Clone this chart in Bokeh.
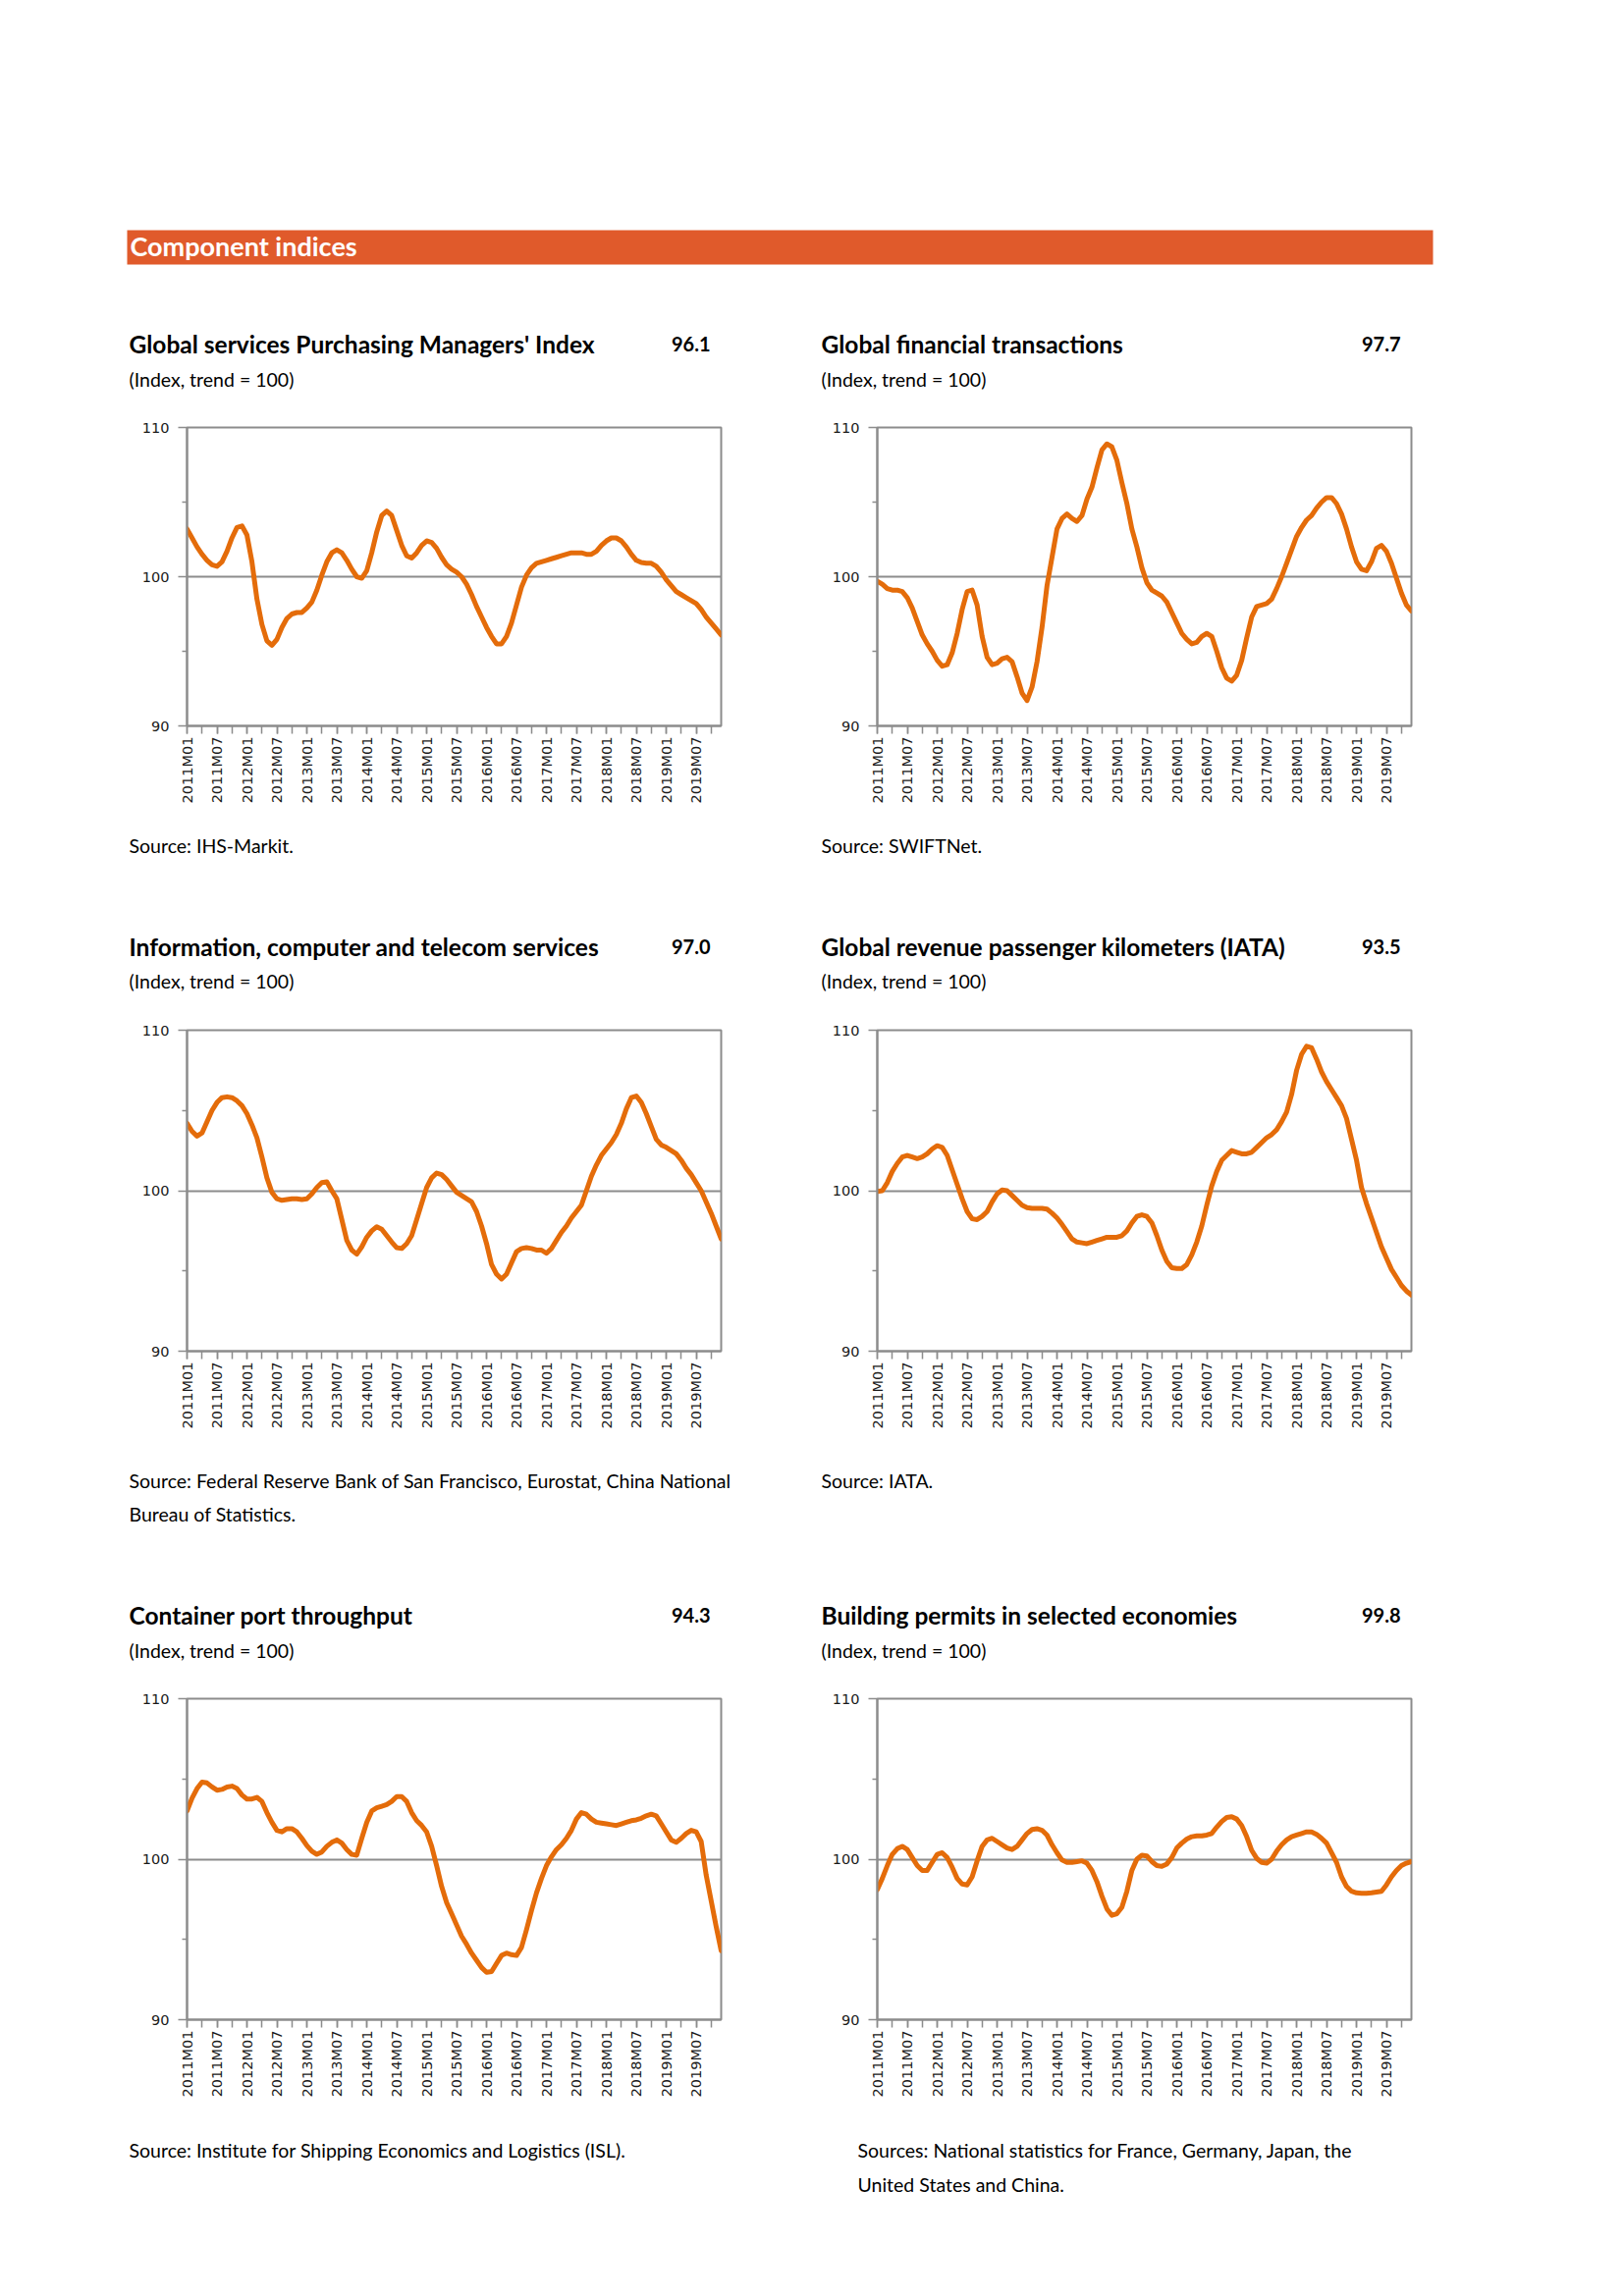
from bokeh.plotting import figure
from bokeh.models import Range1d, FixedTicker, Label
from bokeh.layouts import column, row
from bokeh.embed import file_html
from bokeh.resources import INLINE
from math import pi

# ---------------- data ----------------
tick_labels = ["2011M01", "2011M07", "2012M01", "2012M07", "2013M01", "2013M07",
               "2014M01", "2014M07", "2015M01", "2015M07", "2016M01", "2016M07",
               "2017M01", "2017M07", "2018M01", "2018M07", "2019M01", "2019M07"]

pmi = [103.2, 102.6, 102.0, 101.5, 101.1, 100.8, 100.7, 101.0, 101.7, 102.6, 103.3, 103.4,
       102.8, 101.0, 98.5, 96.8, 95.7, 95.4, 95.8, 96.6, 97.2, 97.5, 97.6, 97.6,
       97.9, 98.3, 99.1, 100.1, 101.0, 101.6, 101.8, 101.6, 101.1, 100.5, 100.0, 99.9,
       100.4, 101.6, 103.0, 104.1, 104.4, 104.1, 103.1, 102.1, 101.4, 101.25, 101.6, 102.1,
       102.4, 102.3, 101.9, 101.3, 100.8, 100.5, 100.3, 100.0, 99.5, 98.8, 98.0, 97.3,
       96.6, 96.0, 95.5, 95.5, 96.0, 96.9, 98.1, 99.3, 100.1, 100.6, 100.9, 101.0,
       101.1, 101.2, 101.3, 101.4, 101.5, 101.6, 101.6, 101.6, 101.5, 101.5, 101.7, 102.1,
       102.4, 102.6, 102.6, 102.4, 102.0, 101.5, 101.1, 100.95, 100.9, 100.9, 100.7, 100.3,
       99.8, 99.4, 99.0, 98.8, 98.6, 98.4, 98.2, 97.8, 97.3, 96.9, 96.5, 96.1]

fin = [99.7, 99.5, 99.2, 99.1, 99.1, 99.0, 98.6, 97.9, 97.0, 96.1, 95.5, 95.0,
       94.4, 94.0, 94.1, 94.9, 96.2, 97.8, 99.0, 99.1, 98.1, 96.0, 94.6, 94.1,
       94.2, 94.5, 94.6, 94.3, 93.3, 92.2, 91.7, 92.6, 94.3, 96.6, 99.4, 101.3,
       103.2, 103.9, 104.2, 103.9, 103.7, 104.1, 105.2, 106.0, 107.3, 108.5, 108.9, 108.7,
       107.8, 106.3, 104.9, 103.2, 102.0, 100.6, 99.6, 99.1, 98.9, 98.7, 98.3, 97.6,
       96.9, 96.2, 95.8, 95.5, 95.6, 96.0, 96.2, 96.0, 95.0, 93.9, 93.2, 93.0,
       93.4, 94.4, 95.9, 97.3, 98.0, 98.1, 98.2, 98.5, 99.2, 100.0, 100.9, 101.8,
       102.7, 103.3, 103.8, 104.1, 104.6, 105.0, 105.3, 105.3, 104.9, 104.2, 103.2, 102.0,
       101.0, 100.5, 100.4, 101.0, 101.9, 102.1, 101.7, 100.9, 99.9, 98.9, 98.1, 97.7]

ict = [104.2, 103.7, 103.4, 103.6, 104.3, 105.0, 105.5, 105.8, 105.85, 105.8, 105.6, 105.3,
       104.8, 104.1, 103.3, 102.1, 100.8, 99.9, 99.5, 99.4, 99.45, 99.5, 99.5, 99.45,
       99.5, 99.8, 100.2, 100.5, 100.55, 100.0, 99.5, 98.2, 96.9, 96.3, 96.05, 96.5,
       97.1, 97.5, 97.75, 97.6, 97.2, 96.8, 96.45, 96.4, 96.7, 97.2, 98.2, 99.2,
       100.2, 100.8, 101.1, 101.0, 100.7, 100.3, 99.9, 99.7, 99.5, 99.3, 98.7, 97.8,
       96.7, 95.4, 94.8, 94.5, 94.8, 95.5, 96.2, 96.4, 96.45, 96.4, 96.3, 96.3,
       96.1, 96.4, 96.9, 97.4, 97.8, 98.3, 98.7, 99.1, 100.0, 100.9, 101.6, 102.2,
       102.6, 103.0, 103.5, 104.2, 105.1, 105.8, 105.9, 105.5, 104.8, 104.0, 103.2, 102.85,
       102.7, 102.5, 102.3, 101.9, 101.4, 101.0, 100.5, 100.0, 99.3, 98.6, 97.8, 97.0]

rpk = [99.95, 100.0, 100.5, 101.2, 101.7, 102.1, 102.2, 102.1, 102.0, 102.1, 102.3, 102.6,
       102.8, 102.7, 102.2, 101.3, 100.4, 99.5, 98.7, 98.25, 98.2, 98.4, 98.7, 99.3,
       99.8, 100.05, 100.0, 99.7, 99.4, 99.1, 98.95, 98.9, 98.9, 98.9, 98.85, 98.6,
       98.3, 97.9, 97.45, 97.0, 96.8, 96.75, 96.7, 96.8, 96.9, 97.0, 97.1, 97.1,
       97.1, 97.2, 97.5, 98.0, 98.4, 98.5, 98.4, 98.0, 97.2, 96.3, 95.6, 95.2,
       95.15, 95.15, 95.4, 96.0, 96.8, 97.8, 99.1, 100.3, 101.2, 101.9, 102.2, 102.5,
       102.4, 102.3, 102.3, 102.4, 102.7, 103.0, 103.3, 103.5, 103.8, 104.3, 104.9, 106.0,
       107.5, 108.5, 109.0, 108.9, 108.2, 107.4, 106.8, 106.3, 105.8, 105.3, 104.5, 103.2,
       101.9, 100.2, 99.2, 98.3, 97.4, 96.5, 95.8, 95.1, 94.6, 94.1, 93.75, 93.5]

port = [103.0, 103.8, 104.4, 104.8, 104.75, 104.5, 104.3, 104.35, 104.5, 104.55, 104.4, 104.0,
        103.75, 103.75, 103.85, 103.6, 102.9, 102.3, 101.8, 101.7, 101.9, 101.9, 101.7, 101.3,
        100.85, 100.5, 100.3, 100.45, 100.8, 101.05, 101.2, 101.0, 100.6, 100.3, 100.25, 101.3,
        102.3, 103.0, 103.2, 103.3, 103.4, 103.6, 103.9, 103.9, 103.6, 102.9, 102.4, 102.1,
        101.7, 100.8, 99.6, 98.3, 97.3, 96.6, 95.9, 95.2, 94.7, 94.15, 93.7, 93.25,
        92.95, 93.0, 93.5, 94.0, 94.15, 94.05, 94.0, 94.5, 95.6, 96.8, 97.9, 98.8,
        99.6, 100.15, 100.6, 100.9, 101.3, 101.8, 102.5, 102.9, 102.8, 102.5, 102.3, 102.25,
        102.2, 102.15, 102.1, 102.2, 102.3, 102.4, 102.45, 102.55, 102.7, 102.8, 102.7, 102.2,
        101.7, 101.2, 101.05, 101.3, 101.6, 101.8, 101.7, 101.1, 99.0, 97.4, 95.8, 94.3]

permits = [98.1, 98.8, 99.6, 100.3, 100.65, 100.8, 100.6, 100.1, 99.6, 99.3, 99.3, 99.8,
           100.3, 100.4, 100.1, 99.5, 98.8, 98.45, 98.4, 98.9, 99.9, 100.8, 101.2, 101.3,
           101.1, 100.9, 100.7, 100.6, 100.8, 101.2, 101.6, 101.85, 101.9, 101.8, 101.5, 100.9,
           100.4, 99.95, 99.8, 99.8, 99.85, 99.9, 99.75, 99.3, 98.6, 97.7, 96.9, 96.5,
           96.6, 97.0, 98.0, 99.3, 100.0, 100.25, 100.2, 99.85, 99.6, 99.55, 99.7, 100.1,
           100.7, 101.0, 101.25, 101.4, 101.45, 101.45, 101.5, 101.6, 102.0, 102.35, 102.6, 102.65,
           102.5, 102.1, 101.4, 100.55, 100.05, 99.8, 99.75, 100.0, 100.5, 100.9, 101.2, 101.4,
           101.5, 101.6, 101.7, 101.7, 101.55, 101.3, 101.0, 100.4, 99.8, 98.9, 98.3, 98.0,
           97.9, 97.87, 97.87, 97.9, 97.95, 98.0, 98.4, 98.9, 99.3, 99.6, 99.75, 99.85]

titles = ["Global services Purchasing Managers' Index", "Global financial transactions",
          "Information, computer and telecom services", "Global revenue passenger kilometers (IATA)",
          "Container port throughput", "Building permits in selected economies"]
latest = ["96.1", "97.7", "97.0", "93.5", "94.3", "99.8"]
subtitle = "(Index, trend = 100)"
sources = [["Source:  IHS-Markit."],
           ["Source: SWIFTNet."],
           ["Source:  Federal Reserve Bank of San Francisco, Eurostat, China National",
            "Bureau of Statistics."],
           ["Source: IATA."],
           ["Source:  Institute for Shipping Economics and Logistics (ISL)."],
           ["Sources: National statistics for France, Germany, Japan, the",
            "United States and China."]]
series = [pmi, fin, ict, rpk, port, permits]
y_ticks = [90, 100, 110]
y_minor = [95, 105]

# ---------------- style ----------------
LINE = "#E46C0A"
BAR = "#E05A2B"
GRAY = "#8C8C8C"
TXT_FONT = "Lato"
AX_FONT = "DejaVu Sans"
TITLE_SIZE = "24.5px"
VALUE_SIZE = "20px"
BODY_SIZE = "19.5px"

PAGE_W = 1520
BAND_L, BAND_R = 129, 1459          # horizontal extent of header / text bands (page px)


def band(top, bottom, items):
    """Full-width text band covering page rows top..bottom; items use page coordinates."""
    h = bottom - top
    f = figure(width=PAGE_W, height=h, output_backend="svg", toolbar_location=None,
               title=None, x_range=Range1d(BAND_L, BAND_R), y_range=Range1d(0, h),
               x_axis_location=None, y_axis_location=None,
               min_border_left=BAND_L, min_border_right=PAGE_W - BAND_R,
               min_border_top=0, min_border_bottom=0)
    f.outline_line_color = None
    f.xgrid.visible = False
    f.ygrid.visible = False
    f.background_fill_color = "white"
    f.border_fill_color = "white"
    for (x, py, txt, size, bold, align) in items:
        f.add_layout(Label(x=x, y=h - (py - top), text=txt, text_font=TXT_FONT,
                           text_font_size=size, text_font_style="bold" if bold else "normal",
                           text_baseline="middle", text_align=align, text_color="black"))
    return f


def chart_fig(k, width, border_left, frame_w, frame_h, border_top, border_bottom):
    vals = series[k]
    n = len(vals)
    xs = list(range(n))
    p = figure(width=width, height=border_top + frame_h + border_bottom,
               output_backend="svg", toolbar_location=None, title=None,
               x_range=Range1d(0, n - 1), y_range=Range1d(90, 110),
               min_border_left=border_left, min_border_right=width - border_left - frame_w,
               min_border_top=border_top, min_border_bottom=border_bottom)
    p.background_fill_color = "white"
    p.border_fill_color = "white"
    p.outline_line_color = GRAY
    p.outline_line_width = 2

    p.xaxis.ticker = FixedTicker(ticks=list(range(0, n - 5, 6)), minor_ticks=list(range(0, n, 3)))
    p.xaxis.major_label_overrides = {i * 6: lab for i, lab in enumerate(tick_labels)}
    p.xaxis.major_label_orientation = pi / 2
    p.yaxis.ticker = FixedTicker(ticks=y_ticks, minor_ticks=y_minor)
    for ax in (p.xaxis, p.yaxis):
        ax.axis_line_color = GRAY
        ax.axis_line_width = 2
        ax.major_tick_line_color = GRAY
        ax.minor_tick_line_color = GRAY
        ax.major_tick_line_width = 1.5
        ax.minor_tick_line_width = 1.5
        ax.major_tick_in = 0
        ax.minor_tick_in = 0
        ax.major_label_text_font = AX_FONT
        ax.major_label_text_color = "#1a1a1a"
    p.xaxis.major_tick_out = 8
    p.xaxis.minor_tick_out = 8
    p.xaxis.major_label_standoff = 3
    p.xaxis.major_label_text_font_size = "14.5px"
    p.yaxis.major_tick_out = 9
    p.yaxis.minor_tick_out = 5
    p.yaxis.major_label_standoff = 9
    p.yaxis.major_label_text_font_size = "14.5px"
    p.xgrid.visible = False
    p.ygrid.ticker = FixedTicker(ticks=[100])
    p.ygrid.grid_line_color = GRAY
    p.ygrid.grid_line_width = 2

    p.line(xs, vals, line_color=LINE, line_width=5, line_join="round", line_cap="round")
    return p


# ---------------- header ----------------
hdr = figure(width=PAGE_W, height=290, output_backend="svg", toolbar_location=None, title=None,
             x_range=Range1d(0, 1), y_range=Range1d(0, 1),
             x_axis_location=None, y_axis_location=None,
             min_border_left=BAND_L, min_border_right=PAGE_W - BAND_R,
             min_border_top=234, min_border_bottom=21)
hdr.background_fill_color = BAR
hdr.border_fill_color = "white"
hdr.outline_line_color = None
hdr.xgrid.visible = False
hdr.ygrid.visible = False
hdr.add_layout(Label(x=3, y=19, x_units="screen", y_units="screen", text="Component indices",
                     text_font=TXT_FONT, text_font_size="27px", text_font_style="bold",
                     text_color="white", text_baseline="middle", text_align="left"))

# ---------------- layout geometry (page px) ----------------
LX, RX = 131, 836           # left edges of text in left / right column
LV, RV = 723, 1426          # right edges of headline values
LW, RW = 750, 770           # chart figure widths
LBL, RBL = 190, 143         # chart left borders
FW = 544                    # chart frame width


def heads(r, ty, sy):
    k1, k2 = 2 * r, 2 * r + 1
    return [(LX, ty, titles[k1], TITLE_SIZE, True, "left"),
            (LV, ty, latest[k1], VALUE_SIZE, True, "right"),
            (LX, sy, subtitle, BODY_SIZE, False, "left"),
            (RX, ty, titles[k2], TITLE_SIZE, True, "left"),
            (RV, ty, latest[k2], VALUE_SIZE, True, "right"),
            (RX, sy, subtitle, BODY_SIZE, False, "left")]


def srcs(r, ys, rx):
    k1, k2 = 2 * r, 2 * r + 1
    out = []
    for j, s in enumerate(sources[k1]):
        out.append((LX, ys[j], s, BODY_SIZE, False, "left"))
    for j, s in enumerate(sources[k2]):
        out.append((rx, ys[j], s, BODY_SIZE, False, "left"))
    return out


def chart_row(r, frame_h, border_top, border_bottom):
    return row(chart_fig(2 * r, LW, LBL, FW, frame_h, border_top, border_bottom),
               chart_fig(2 * r + 1, RW, RBL, FW, frame_h, border_top, border_bottom))


band_a = band(290, 425, heads(0, 350, 386))
row1 = chart_row(0, 304, 10, 91)                      # 425..830
band_b = band(830, 1041, srcs(0, [861], RX) + heads(1, 964, 999))
row2 = chart_row(1, 327, 8, 90)                       # 1041..1466
band_c = band(1466, 1722, srcs(1, [1508, 1542], RX) + heads(2, 1645, 1681))
row3 = chart_row(2, 327, 8, 90)                       # 1722..2147
band_d = band(2147, 2300, srcs(2, [2190, 2225], 873))

layout = column(hdr, band_a, row1, band_b, row2, band_c, row3, band_d)
open("out.html", "w").write(file_html(layout, INLINE))
